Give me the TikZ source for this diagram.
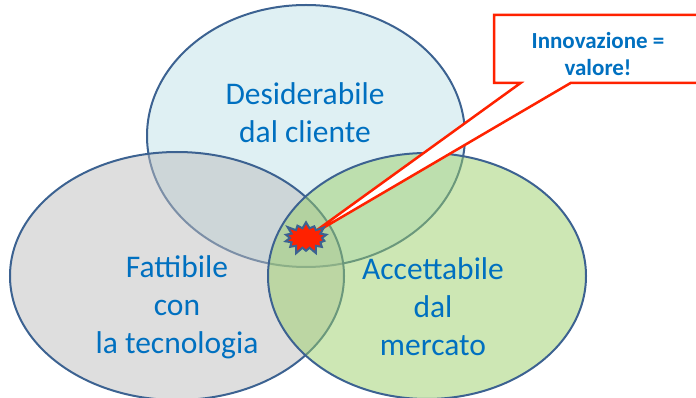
\documentclass[tikz,border=0pt]{standalone}
\usepackage{fontspec}
\setmainfont{Carlito}
\usetikzlibrary{shapes.symbols, shapes.callouts}
\definecolor{rim}{RGB}{60,98,145}
\definecolor{txtblue}{RGB}{0,112,192}
\definecolor{clientfill}{RGB}{191,225,231}
\definecolor{techfill}{RGB}{189,189,189}
\definecolor{marketfill}{RGB}{155,207,105}
\definecolor{burstred}{RGB}{255,34,0}

\begin{document}
\begin{tikzpicture}[x=1pt,y=-1pt,
  setfill/.style={draw=rim,line width=2pt,fill opacity=0.5},
  settext/.style={text=txtblue,align=center,font=\fontsize{31.5}{38}\selectfont}]
\useasboundingbox (0,0) rectangle (696,398);
% the three sets
\filldraw[setfill,fill=clientfill] (306,136) ellipse [x radius=159, y radius=131];
\filldraw[setfill,fill=techfill] (177,276) ellipse [x radius=167, y radius=124];
\filldraw[setfill,fill=marketfill] (427,276) ellipse [x radius=159, y radius=123];
\node[settext] (client) at (305,113) {Desiderabile\\dal cliente};
\node[settext] (tech) at (177,307) {Fattibile\\con\\la tecnologia};
\node[settext] (market) at (433,307) {Accettabile\\dal\\mercato};
% callout and spark
\coordinate (spark) at (306,238);
\node[rectangle callout,draw=burstred,line width=2.5pt,fill=white,minimum width=208pt,minimum height=68pt,
  callout absolute pointer={(spark)},callout pointer width=50pt] (note) at (598,49) {};
\node[text=txtblue,font=\bfseries\fontsize{23}{27}\selectfont,align=center] (notetext) at (598,54) {Innovazione =\\valore!};
\node[starburst,fill=burstred,draw=rim,line width=2pt,minimum width=48pt,minimum height=36pt,
  starburst points=14,starburst point height=8pt,inner sep=0pt] (burst) at (spark) {};
\end{tikzpicture}
\end{document}
